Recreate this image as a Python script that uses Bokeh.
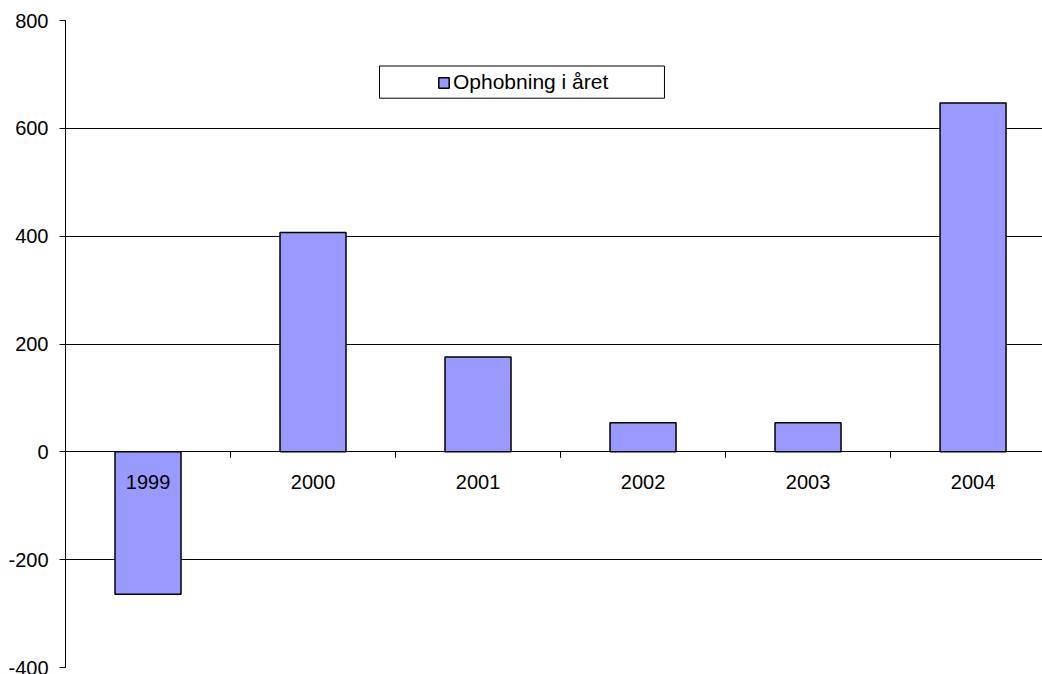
from bokeh.plotting import figure
from bokeh.models import (ColumnDataSource, Range1d, FixedTicker, Legend, LegendItem,
                          BoxAnnotation, CustomJSTickFormatter)
from bokeh.core.properties import value
from bokeh.embed import file_html
from bokeh.resources import INLINE

# ---- data ----
years = ["1999", "2000", "2001", "2002", "2003", "2004"]
values = [-264, 407, 176, 54, 54, 647]
y_ticks = [-400, -200, 0, 200, 400, 600, 800]
series_name = "Ophobning i året"

FONT = "Liberation Sans"
BAR_FILL = "#9999FF"

xpos = [i + 0.5 for i in range(len(years))]
src = ColumnDataSource(dict(x=xpos, top=values, year=years))

p = figure(width=1042, height=674, output_backend="svg", toolbar_location=None,
           x_range=Range1d(0, 5.921), y_range=Range1d(-400, 800),
           min_border_left=65, min_border_right=0, min_border_top=20,
           min_border_bottom=7)
p.outline_line_color = None
p.background_fill_color = "white"
p.border_fill_color = "white"

# axes
p.xaxis.visible = False
p.xgrid.visible = False
yax = p.yaxis[0]
yax.ticker = FixedTicker(ticks=y_ticks)
yax.formatter = CustomJSTickFormatter(code="return tick.toFixed(0);")
yax.axis_line_color = "black"
yax.axis_line_width = 1
yax.major_tick_line_color = "black"
yax.major_tick_out = 6
yax.major_tick_in = 0
yax.minor_tick_line_color = None
yax.major_label_standoff = 11
yax.major_label_text_font = FONT
yax.major_label_text_font_size = "20px"
yax.major_label_text_color = "black"

p.ygrid.ticker = FixedTicker(ticks=y_ticks)
p.ygrid.grid_line_color = "black"
p.ygrid.grid_line_width = 1
p.ygrid.grid_line_alpha = 1.0

# bars
bars = p.vbar(x="x", top="top", bottom=0, width=0.4, source=src,
              fill_color=BAR_FILL, line_color="black", line_width=1.5)

# category axis at zero: ticks between categories
p.segment(x0=list(range(1, len(years))), x1=list(range(1, len(years))),
          y0=0, y1=-11, line_color="black", line_width=1)

# category labels just below the zero line
p.text(x="x", y=0, text="year", source=src, text_align="center",
       text_baseline="middle", y_offset=30, text_font=value(FONT),
       text_font_size="20px", text_color="black")

# legend box + legend
box = BoxAnnotation(left=1.903, right=3.630, top=715.6, bottom=655.9,
                    fill_color="white", fill_alpha=1.0,
                    line_color="black", line_alpha=1.0, line_width=1,
                    level="overlay")
p.add_layout(box)

legend = Legend(items=[LegendItem(label=series_name, renderers=[bars])],
                location=(372, 573), orientation="horizontal",
                padding=0, margin=0, spacing=0,
                glyph_width=13, glyph_height=13, label_standoff=3,
                label_text_font=FONT, label_text_font_size="21px",
                label_text_color="black",
                border_line_color=None, background_fill_alpha=0.0)
p.add_layout(legend, "center")

open("out.html", "w").write(file_html(p, INLINE))
